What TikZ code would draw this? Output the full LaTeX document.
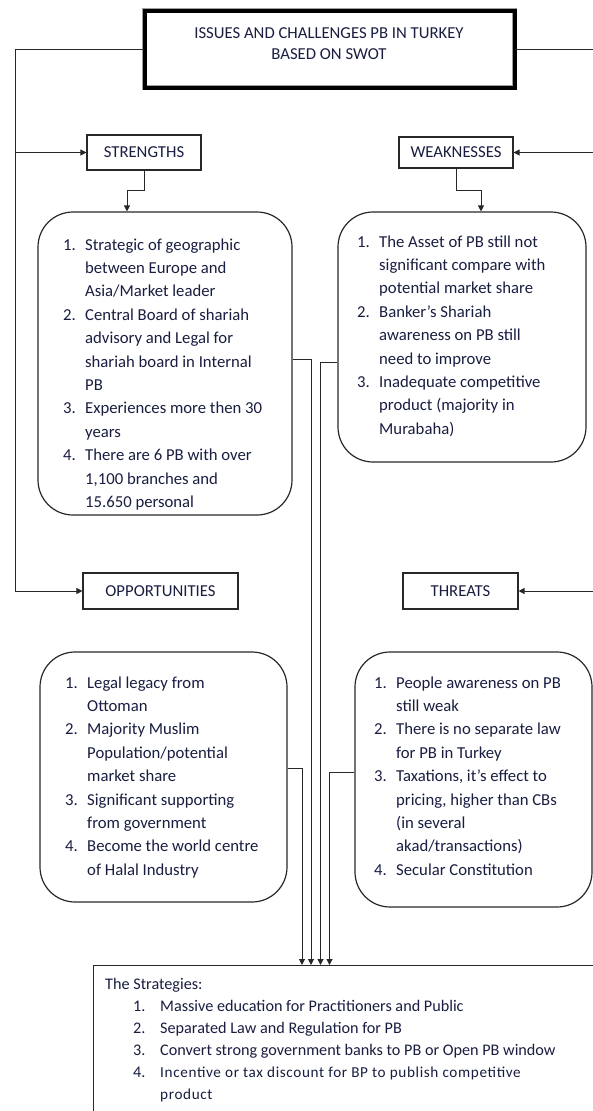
\documentclass[tikz,border=0pt]{standalone}
\usepackage{fontspec}
\setmainfont{Carlito}
\usetikzlibrary{arrows.meta,calc}
\definecolor{txtc}{RGB}{25,30,65}
\definecolor{linec}{RGB}{40,40,40}
\newcommand{\nm}[1]{\makebox[22pt][l]{#1}}
\newcommand{\snm}[1]{\makebox[27pt][l]{#1}}
\newcommand{\smalltxt}{\fontsize{15.2}{22}\selectfont\addfontfeatures{LetterSpace=4.2}}
\begin{document}
\begin{tikzpicture}[x=1pt,y=-1pt,
  conn/.style={draw=linec, line width=1pt},
  arr/.style={conn, -{Triangle[length=6pt,width=6pt]}},
  lbl/.style={draw=linec, line width=1.1pt, inner sep=0pt, text=txtc,
    font=\fontsize{16.7}{20}\selectfont},
  rbox/.style={draw=linec, line width=1.2pt, rounded corners=35pt, inner sep=0pt},
  txt/.style={inner sep=0pt, anchor=north west, text=txtc,
    font=\fontsize{16.7}{23.4}\selectfont}]
\clip (0,0) rectangle (593,1111);
\useasboundingbox (0,0) rectangle (593,1111);
\fill[white] (0,0) rectangle (593,1111);

% title
\node[draw=gray!75, double=black, double distance=4pt, line width=0.8pt,
  minimum width=370pt, minimum height=77pt, inner sep=0pt] (title) at (329.5,49) {};
\node[inner sep=0pt, text=txtc, align=center,
  font=\fontsize{16.7}{21}\selectfont] (titletxt) at (329,43.5)
  {ISSUES AND CHALLENGES PB IN TURKEY\\BASED ON SWOT};

% SWOT labels
\node[lbl, minimum width=114pt, minimum height=35pt] (str) at (144,152.5) {STRENGTHS};
\node[lbl, minimum width=114pt, minimum height=31pt] (wk) at (456,152.5) {WEAKNESSES};
\node[lbl, minimum width=155pt, minimum height=36pt] (opp) at (160.5,591) {OPPORTUNITIES};
\node[lbl, minimum width=115pt, minimum height=36pt] (thr) at (460.5,591) {THREATS};

% rounded boxes
\node[rbox, minimum width=254pt, minimum height=303pt] (sbox) at (165,363.5) {};
\node[rbox, minimum width=248pt, minimum height=250pt] (wbox) at (462,337) {};
\node[rbox, minimum width=247pt, minimum height=250pt] (obox) at (163.5,777) {};
\node[rbox, minimum width=237pt, minimum height=255pt] (tbox) at (473.5,779.5) {};

% strategies box
\node[draw=linec, line width=1.1pt, minimum width=510pt, minimum height=180pt,
  inner sep=0pt, anchor=north west] (strat) at (93,965) {};

% box texts
\node[txt] (stxt) at (63,233.5) {\begin{tabular}{@{}l@{}l@{}}
\nm{1.} & Strategic of geographic\\
 & between Europe and\\
 & Asia/Market leader\\
\nm{2.} & Central Board of shariah\\
 & advisory and Legal for\\
 & shariah board in Internal\\
 & PB\\
\nm{3.} & Experiences more then 30\\
 & years\\
\nm{4.} & There are 6 PB with over\\
 & 1,100 branches and\\
 & 15.650 personal
\end{tabular}};

\node[txt] (wtxt) at (357,230.5) {\begin{tabular}{@{}l@{}l@{}}
\nm{1.} & The Asset of PB still not\\
 & significant compare with\\
 & potential market share\\
\nm{2.} & Banker’s Shariah\\
 & awareness on PB still\\
 & need to improve\\
\nm{3.} & Inadequate competitive\\
 & product (majority in\\
 & Murabaha)
\end{tabular}};

\node[txt] (otxt) at (65,671.5) {\begin{tabular}{@{}l@{}l@{}}
\nm{1.} & Legal legacy from\\
 & Ottoman\\
\nm{2.} & Majority Muslim\\
 & Population/potential\\
 & market share\\
\nm{3.} & Significant supporting\\
 & from government\\
\nm{4.} & Become the world centre\\
 & of Halal Industry
\end{tabular}};

\node[txt] (ttxt) at (374,671.5) {\begin{tabular}{@{}l@{}l@{}}
\nm{1.} & People awareness on PB\\
 & still weak\\
\nm{2.} & There is no separate law\\
 & for PB in Turkey\\
\nm{3.} & Taxations, it’s effect to\\
 & pricing, higher than CBs\\
 & (in several\\
 & akad/transactions)\\
\nm{4.} & Secular Constitution
\end{tabular}};

\node[txt, font=\fontsize{16.2}{22}\selectfont] (sttxt) at (105,973.5) {\begin{tabular}{@{}l@{}}
The Strategies:\\
\hspace{28pt}\snm{1.}Massive education for Practitioners and Public\\
\hspace{28pt}\snm{2.}Separated Law and Regulation for PB\\
\hspace{28pt}\snm{3.}Convert strong government banks to PB or Open PB window\\
\hspace{28pt}\snm{4.}{\smalltxt Incentive or tax discount for BP to publish competitive}\\
\hspace{55pt}{\smalltxt product}
\end{tabular}};

% trunk coordinates
\coordinate (lx) at (15,0);
\coordinate (rx) at (598,0);

% left trunk
\draw[arr] (title.west) -| (lx |- opp.west) -- (opp.west);
\draw[arr] (lx |- str.west) -- (str.west);
% right trunk (vertical lies beyond the page edge)
\draw[arr] (title.east) -| (rx |- thr.east) -- (thr.east);
\draw[arr] (rx |- wk.east) -- (wk.east);

% label to box connectors
\draw[arr] (str.south) -- ++(0,20) -| ([xshift=-38pt]sbox.north);
\draw[arr] (wk.south) -- ++(0,22) -| ([xshift=19pt]wbox.north);

% connectors to strategies
\coordinate (sy) at (0,359);
\coordinate (sx) at (311,0);
\coordinate (wy) at (0,362);
\coordinate (wx) at (320.5,0);
\coordinate (oy) at (0,768);
\coordinate (ox) at (302,0);
\coordinate (ty) at (0,772);
\coordinate (tx) at (329.5,0);
\draw[arr] (sbox.east |- sy) -| (sx |- strat.north);
\draw[arr] (wbox.west |- wy) -| (wx |- strat.north);
\draw[arr] (obox.east |- oy) -| (ox |- strat.north);
\draw[arr] (tbox.west |- ty) -| (tx |- strat.north);
\end{tikzpicture}
\end{document}
